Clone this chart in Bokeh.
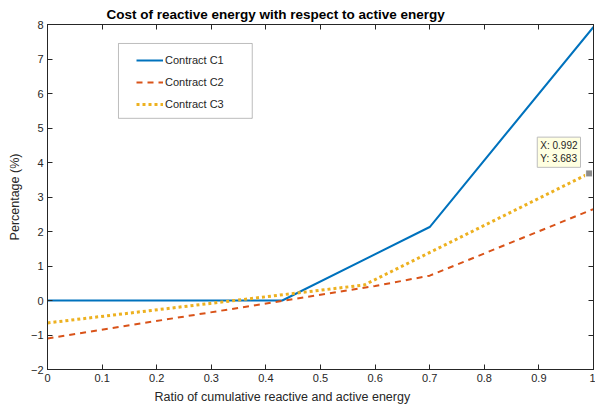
from bokeh.plotting import figure
from bokeh.models import LinearAxis, Range1d, FixedTicker, Label, Legend, LegendItem, BoxAnnotation, Title
from bokeh.embed import file_html
from bokeh.resources import INLINE

x_c1 = [0.0, 0.43, 0.7, 1.0]
y_c1 = [0.0, 0.0, 2.13, 7.93]
x_c2 = [0.0, 0.6, 0.7, 1.0]
y_c2 = [-1.1, 0.42, 0.72, 2.65]
x_c3 = [0.0, 0.58, 0.992, 1.0]
y_c3 = [-0.65, 0.45, 3.683, 3.74]
tip_x = [0.992]
tip_y = [3.683]
x_ticks = [0, 0.1, 0.2, 0.3, 0.4, 0.5, 0.6, 0.7, 0.8, 0.9, 1]
y_ticks = [-2, -1, 0, 1, 2, 3, 4, 5, 6, 7, 8]
title_text = "Cost of reactive energy with respect to active energy"
xlabel_text = "Ratio of cumulative reactive and active energy"
ylabel_text = "Percentage (%)"

FONT = "Liberation Sans"
INK = "#262626"

p = figure(width=595, height=407, output_backend="svg", toolbar_location=None,
           x_range=Range1d(0, 1), y_range=Range1d(-2, 8),
           min_border_left=47, min_border_right=2, min_border_top=24, min_border_bottom=38,
           y_axis_label=ylabel_text)
p.title.visible = False
p.xgrid.visible = False
p.ygrid.visible = False
p.outline_line_color = INK
p.outline_line_width = 1

for ax, t in ((p.xaxis[0], x_ticks), (p.yaxis[0], y_ticks)):
    ax.ticker = FixedTicker(ticks=t)
    ax.major_tick_in = 5
    ax.major_tick_out = 0
    ax.minor_tick_line_color = None
    ax.major_label_text_font = FONT
    ax.major_label_text_font_size = "11px"
    ax.major_label_text_color = INK
    ax.axis_label_text_font = FONT
    ax.axis_label_text_font_size = "12.5px"
    ax.axis_label_text_font_style = "normal"
    ax.axis_label_text_color = INK
    ax.axis_line_color = INK
    ax.major_tick_line_color = INK
p.xaxis[0].major_label_standoff = 4
p.yaxis[0].axis_label_standoff = 6
p.yaxis[0].major_label_standoff = 4

top = LinearAxis(ticker=FixedTicker(ticks=x_ticks), major_label_text_font_size="0px",
                 major_tick_in=5, major_tick_out=0, minor_tick_line_color=None,
                 axis_line_color=INK, major_tick_line_color=INK)
right = LinearAxis(ticker=FixedTicker(ticks=y_ticks), major_label_text_font_size="0px",
                   major_tick_in=5, major_tick_out=0, minor_tick_line_color=None,
                   axis_line_color=INK, major_tick_line_color=INK)
p.add_layout(top, "above")
p.add_layout(right, "right")
top.major_label_standoff = 0
right.major_label_standoff = 0

# title and x label as off-centre titles, like the reference
p.add_layout(Title(text=title_text, text_font=FONT, text_font_size="13.5px",
                   text_font_style="bold", text_color="#000000", align="left",
                   offset=59, standoff=6), "above")
p.add_layout(Title(text=xlabel_text, text_font=FONT, text_font_size="12.5px",
                   text_font_style="normal", text_color=INK, align="left",
                   offset=107, standoff=7), "below")

r1 = p.line(x_c1, y_c1, line_color="#0072BD", line_width=2)
r2 = p.line(x_c2, y_c2, line_color="#D95319", line_width=2, line_dash="6 5")
r3 = p.line(x_c3, y_c3, line_color="#EDB120", line_width=3, line_dash="3 3")

p.scatter(tip_x, tip_y, marker="square", size=7, fill_color="#8c8c8c", line_color="#ffffff")

tip = Label(x=0.897, y=3.86, text="X: 0.992\nY: 3.683", text_font=FONT, text_font_size="10px",
            text_color=INK, background_fill_color="#ffffe1", border_line_color="#bdbdbd",
            padding=3)
p.add_layout(tip)

box = BoxAnnotation(left=0.130, right=0.375, top=7.45, bottom=5.28, fill_color="white",
                    fill_alpha=1, line_color=INK, line_width=1)
p.add_layout(box)

legend = Legend(items=[LegendItem(label="Contract C1", renderers=[r1]),
                       LegendItem(label="Contract C2", renderers=[r2]),
                       LegendItem(label="Contract C3", renderers=[r3])],
                location=(89, 256), label_text_font=FONT, label_text_font_size="11px",
                label_text_color=INK, border_line_color=None, background_fill_alpha=0,
                glyph_width=27, spacing=4, padding=0, margin=0, label_standoff=2,
                label_height=18, glyph_height=18)
p.add_layout(legend, "center")

open("out.html", "w").write(file_html(p, INLINE))
